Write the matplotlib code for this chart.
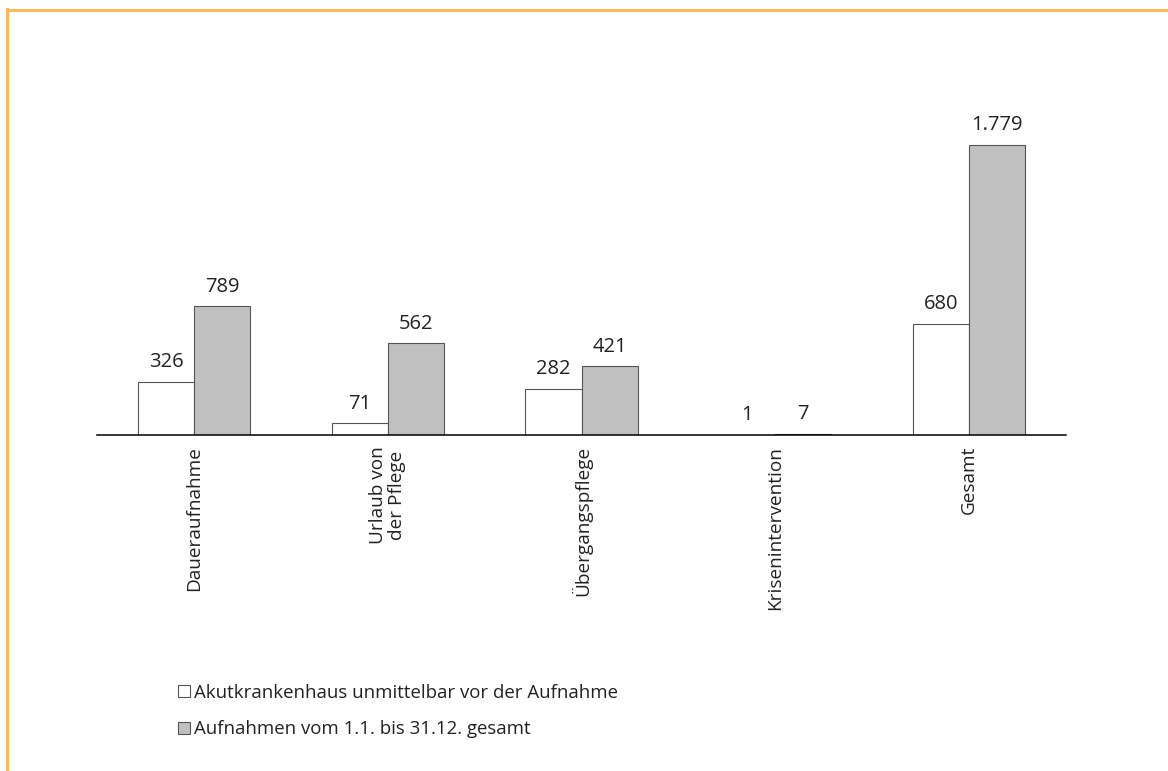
import matplotlib.pyplot as plt
import matplotlib.patches as mpatches
import numpy as np

plt.rcParams['font.family'] = ['Open Sans', 'DejaVu Sans']

categories = ['Daueraufnahme', 'Urlaub von\nder Pflege', 'Übergangspflege',
              'Krisenintervention', 'Gesamt']
akut = [326, 71, 282, 1, 680]
gesamt = [789, 562, 421, 7, 1779]
akut_labels = ['326', '71', '282', '1', '680']
gesamt_labels = ['789', '562', '421', '7', '1.779']
legend_names = ['Akutkrankenhaus unmittelbar vor der Aufnahme',
                'Aufnahmen vom 1.1. bis 31.12. gesamt']

W, H = 1168, 771
fig = plt.figure(figsize=(W / 100, H / 100), dpi=100)

# orange frame, only top and left edges are inside the image
fig.add_artist(plt.Line2D([7 / W, 7 / W], [0, 1 - 9 / H], color='#FDB95A',
                          lw=2.2, transform=fig.transFigure))
fig.add_artist(plt.Line2D([7 / W, 1], [1 - 9.5 / H, 1 - 9.5 / H], color='#FDB95A',
                          lw=2.2, transform=fig.transFigure))

ax = fig.add_axes([97 / W, (H - 435) / H, (1066 - 97) / W, (435 - 55) / H])

x = np.arange(len(categories))
bw = 0.289
b1 = ax.bar(x - bw / 2, akut, bw, color='white', edgecolor='#555555', lw=0.8)
b2 = ax.bar(x + bw / 2, gesamt, bw, color='#C0C0C0', edgecolor='#555555', lw=0.8)

for bars, labs in ((b1, akut_labels), (b2, gesamt_labels)):
    for r, lab in zip(bars, labs):
        ax.annotate(lab, (r.get_x() + r.get_width() / 2, r.get_height()),
                    xytext=(0, 7), textcoords='offset points',
                    ha='center', va='bottom', fontsize=14.5, color='#222222')

ax.set_xlim(-0.5, len(categories) - 0.5)
ax.set_ylim(0, 2330)
ax.set_yticks([])
ax.set_xticks(x)
ax.set_xticklabels(categories, rotation=90, fontsize=13.7, color='#222222',
                   multialignment='center', linespacing=1.05)
ax.tick_params(axis='x', length=0, pad=8)
for s in ('top', 'right', 'left'):
    ax.spines[s].set_visible(False)
ax.spines['bottom'].set_linewidth(1.1)

handles = [mpatches.Patch(facecolor='white', edgecolor='#555555', lw=0.8),
           mpatches.Patch(facecolor='#C0C0C0', edgecolor='#555555', lw=0.8)]
fig.legend(handles, legend_names, loc='upper left',
           bbox_to_anchor=(161 / W, 1 - 667 / H), frameon=False, fontsize=13.4,
           handlelength=0.65, handleheight=0.65, handletextpad=0.25,
           labelspacing=1.0, labelcolor='#222222')

fig.savefig('out.png', dpi=100, facecolor='white')
